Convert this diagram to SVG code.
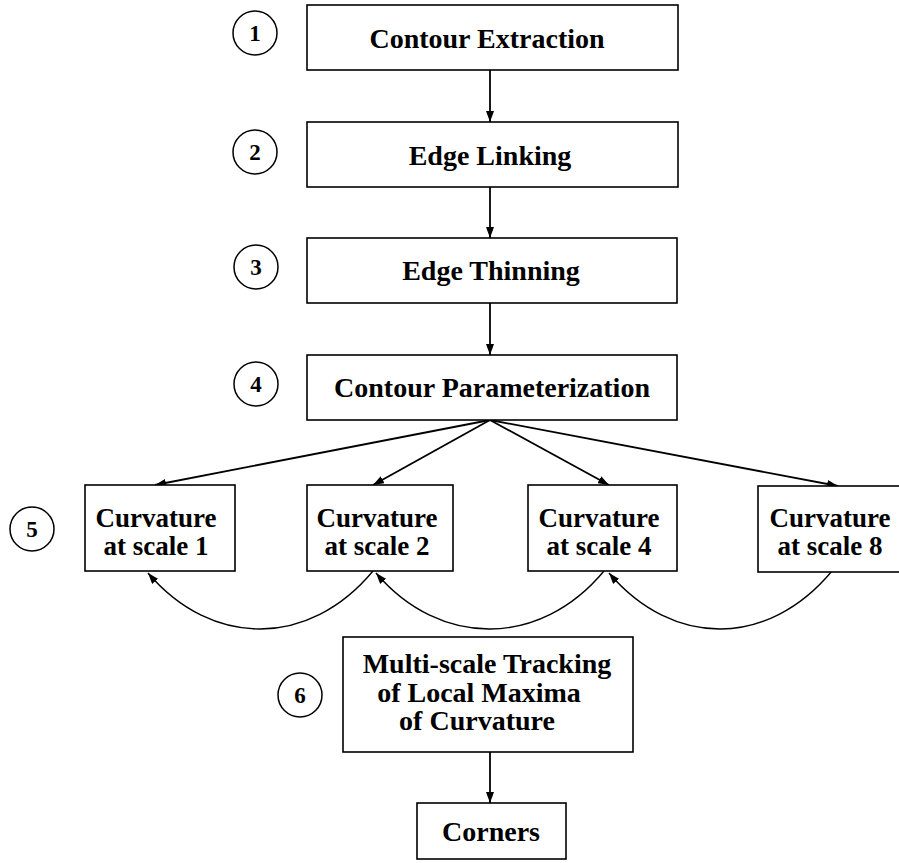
<svg xmlns="http://www.w3.org/2000/svg" width="899" height="863" viewBox="0 0 899 863">
<style>
.box{fill:#fff;stroke:#000;stroke-width:1.6}
.lbl{font-family:"Liberation Serif","Times New Roman",serif;font-weight:bold;font-size:28px;fill:#000;text-anchor:middle}
.cv{font-size:27px}
.num{font-family:"Liberation Serif","Times New Roman",serif;font-weight:bold;font-size:23px;fill:#000;text-anchor:middle}
.circ{fill:none;stroke:#000;stroke-width:1.5}
.edge{fill:none;stroke:#000;stroke-width:1.8;marker-end:url(#ah)}
.curve{fill:none;stroke:#000;stroke-width:1.4;marker-end:url(#ah)}
</style>
<defs>
<marker id="ah" markerUnits="userSpaceOnUse" markerWidth="12" markerHeight="8" refX="11" refY="4" orient="auto">
<path d="M0,0 L11,4 L0,8 z" fill="#000"/>
</marker>
</defs>
<rect width="899" height="863" fill="#fff"/>

<g id="connectors">
<path class="edge" d="M490,70 L490,122"/>
<path class="edge" d="M490,187 L490,238"/>
<path class="edge" d="M490,303 L490,355"/>
<path class="edge" d="M490,420 L155,485"/>
<path class="edge" d="M490,420 L373,485"/>
<path class="edge" d="M490,420 L609,485"/>
<path class="edge" d="M490,420 L838,486"/>
<path class="curve" d="M373,571 C309,648 212,648 148,573"/>
<path class="curve" d="M604,571 C540,648 440,648 376,573"/>
<path class="curve" d="M832,571 C768,648 673,648 609,573"/>
<path class="edge" d="M490,752 L490,803"/>
</g>

<g id="step1">
<circle class="circ" cx="255" cy="33" r="22"/>
<text class="num" x="255" y="41">1</text>
</g>
<g id="step2">
<circle class="circ" cx="255" cy="152" r="22"/>
<text class="num" x="255" y="160">2</text>
</g>
<g id="step3">
<circle class="circ" cx="256" cy="267" r="22"/>
<text class="num" x="256" y="275">3</text>
</g>
<g id="step4">
<circle class="circ" cx="256" cy="384" r="22"/>
<text class="num" x="256" y="392">4</text>
</g>
<g id="step5">
<circle class="circ" cx="32" cy="529" r="22"/>
<text class="num" x="32" y="537">5</text>
</g>
<g id="step6">
<circle class="circ" cx="300" cy="695" r="22"/>
<text class="num" x="300" y="703">6</text>
</g>

<g id="contour-extraction">
<rect class="box" x="307" y="5" width="371" height="65"/>
<text class="lbl" x="487" y="48">Contour Extraction</text>
</g>
<g id="edge-linking">
<rect class="box" x="307" y="122" width="371" height="65"/>
<text class="lbl" x="490" y="165">Edge Linking</text>
</g>
<g id="edge-thinning">
<rect class="box" x="307" y="238" width="370" height="65"/>
<text class="lbl" x="491" y="280">Edge Thinning</text>
</g>
<g id="contour-parameterization">
<rect class="box" x="307" y="355" width="370" height="65"/>
<text class="lbl" x="492" y="397">Contour Parameterization</text>
</g>

<g id="curv1">
<rect class="box" x="85" y="485" width="150" height="86"/>
<text class="lbl cv" x="156" y="527">Curvature</text>
<text class="lbl cv" x="156" y="555">at scale 1</text>
</g>
<g id="curv2">
<rect class="box" x="307" y="485" width="146" height="86"/>
<text class="lbl cv" x="377" y="527">Curvature</text>
<text class="lbl cv" x="377" y="555">at scale 2</text>
</g>
<g id="curv4">
<rect class="box" x="528" y="485" width="149" height="86"/>
<text class="lbl cv" x="599" y="527">Curvature</text>
<text class="lbl cv" x="599" y="555">at scale 4</text>
</g>
<g id="curv8">
<rect class="box" x="758" y="486" width="150" height="86"/>
<text class="lbl cv" x="830" y="527">Curvature</text>
<text class="lbl cv" x="830" y="555">at scale 8</text>
</g>

<g id="tracking">
<rect class="box" x="343" y="637" width="290" height="115"/>
<text class="lbl" x="487" y="673">Multi-scale Tracking</text>
<text class="lbl" x="479" y="702">of Local Maxima</text>
<text class="lbl" x="477" y="730">of Curvature</text>
</g>
<g id="corners">
<rect class="box" x="417" y="803" width="149" height="56"/>
<text class="lbl" x="491" y="841">Corners</text>
</g>
</svg>
